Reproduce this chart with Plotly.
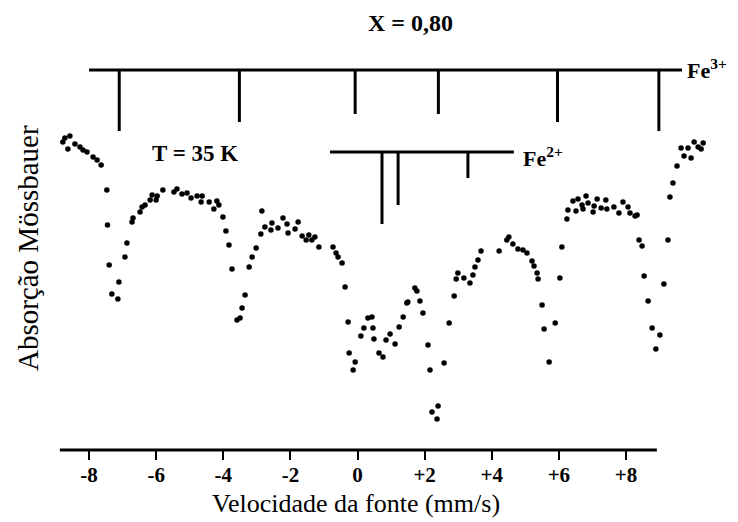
import plotly.graph_objects as go

# Mössbauer spectrum, X = 0,80, T = 35 K (velocity mm/s, relative absorption in arbitrary units)
velocity = [
    -8.78, -8.72, -8.63, -8.57, -8.42, -8.27, -8.18, -8.06, -7.88, -7.76,
    -7.64, -7.47, -7.45, -7.40, -7.32, -7.14, -7.11, -6.93, -6.87, -6.72,
    -6.69, -6.48, -6.42, -6.33, -6.18, -6.12, -6.00, -5.97, -5.80, -5.47,
    -5.38, -5.23, -5.08, -4.96, -4.78, -4.66, -4.63, -4.42, -4.28, -4.19,
    -4.13, -4.01, -3.92, -3.83, -3.74, -3.59, -3.50, -3.44, -3.35, -3.23,
    -3.14, -3.02, -2.88, -2.85, -2.76, -2.58, -2.55, -2.37, -2.22, -2.10,
    -2.07, -1.86, -1.77, -1.65, -1.53, -1.45, -1.36, -1.27, -1.15, -0.73,
    -0.64, -0.58, -0.46, -0.37, -0.28, -0.25, -0.13, -0.07, 0.10, 0.19,
    0.31, 0.43, 0.46, 0.49, 0.64, 0.76, 0.85, 0.97, 1.12, 1.24,
    1.36, 1.47, 1.50, 1.71, 1.77, 1.86, 1.95, 2.10, 2.16, 2.22,
    2.37, 2.40, 2.58, 2.73, 2.88, 2.94, 2.99, 3.17, 3.35, 3.44,
    3.50, 3.59, 3.68, 4.22, 4.45, 4.51, 4.63, 4.78, 4.93, 5.05,
    5.20, 5.26, 5.35, 5.38, 5.50, 5.56, 5.71, 5.89, 6.03, 6.09,
    6.24, 6.27, 6.42, 6.51, 6.57, 6.69, 6.72, 6.81, 6.87, 7.02,
    7.05, 7.14, 7.26, 7.40, 7.43, 7.64, 7.79, 7.91, 8.06, 8.12,
    8.27, 8.33, 8.39, 8.48, 8.54, 8.66, 8.78, 8.89, 9.01, 9.13,
    9.25, 9.31, 9.40, 9.52, 9.64, 9.73, 9.85, 9.94, 10.03, 10.15,
    10.24, 10.30,
]
signal = [
    308, 312, 301, 314, 306, 303, 300, 298, 293, 290,
    285, 260, 225, 185, 156, 151, 168, 193, 207, 228,
    232, 238, 243, 245, 250, 255, 250, 254, 260, 258,
    261, 256, 257, 252, 254, 248, 254, 248, 241, 249,
    245, 233, 219, 205, 181, 130, 132, 142, 155, 183,
    193, 202, 216, 239, 223, 220, 227, 222, 232, 226,
    217, 221, 228, 214, 210, 215, 210, 213, 203, 203,
    197, 193, 187, 163, 128, 97, 80, 88, 114, 122,
    132, 133, 122, 111, 97, 93, 110, 116, 106, 123,
    133, 147, 148, 162, 159, 149, 137, 105, 80, 38,
    31, 44, 87, 127, 154, 171, 177, 172, 167, 175,
    183, 190, 199, 199, 210, 213, 206, 201, 200, 197,
    189, 184, 177, 171, 145, 121, 88, 127, 172, 203,
    231, 240, 249, 239, 251, 245, 241, 254, 247, 238,
    244, 251, 242, 250, 241, 243, 237, 248, 243, 237,
    234, 235, 210, 204, 174, 149, 122, 101, 115, 166,
    210, 253, 267, 284, 302, 294, 302, 292, 308, 303,
    301, 307,
]

# Stick diagrams (line positions in mm/s)
fe3_positions = [-7.10, -3.52, -0.07, 2.41, 5.96, 8.98]
fe3_depths = [61, 52, 44, 44, 52, 61]
fe3_level = 380
fe3_span = [-8.00, 9.67]

fe2_positions = [0.73, 1.21, 3.29]
fe2_depths = [72, 53, 26]
fe2_level = 298
fe2_span = [-0.82, 4.66]

# Axis
axis_span = [-8.87, 8.92]
tick_values = [-8, -6, -4, -2, 0, 2, 4, 6, 8]
tick_labels = ["-8", "-6", "-4", "-2", "0", "+2", "+4", "+6", "+8"]


def stick_trace(positions, depths, level, span):
    xs = [span[0], span[1], None]
    ys = [level, level, None]
    for p, d in zip(positions, depths):
        xs += [p, p, None]
        ys += [level, level - d, None]
    return go.Scatter(x=xs, y=ys, mode="lines", line=dict(color="black", width=3),
                      hoverinfo="skip", showlegend=False)


fig = go.Figure()
fig.add_trace(go.Scatter(x=velocity, y=signal, mode="markers",
                         marker=dict(color="black", size=5.5), showlegend=False))
fig.add_trace(stick_trace(fe3_positions, fe3_depths, fe3_level, fe3_span))
fig.add_trace(stick_trace(fe2_positions, fe2_depths, fe2_level, fe2_span))
fig.add_trace(go.Scatter(x=axis_span, y=[0, 0], mode="lines",
                         line=dict(color="black", width=3), hoverinfo="skip", showlegend=False))

serif = "Liberation Serif, Times New Roman, DejaVu Serif, serif"
fig.update_layout(
    width=730, height=514,
    margin=dict(l=42, r=20, t=0, b=62),
    plot_bgcolor="white", paper_bgcolor="white",
    font=dict(family=serif, color="black"),
    xaxis=dict(range=[-9.163, 10.742], showgrid=False, zeroline=False, showline=False,
               tickmode="array", tickvals=tick_values, ticktext=tick_labels,
               ticks="inside", ticklen=10, tickwidth=2, tickcolor="black",
               tickfont=dict(family=serif, size=21, color="black", weight="bold")),
    yaxis=dict(range=[-10, 442], visible=False),
    annotations=[
        dict(text="X = 0,80", xref="paper", yref="paper", x=0.5404, y=0.9668,
             xanchor="center", yanchor="middle",
             showarrow=False, font=dict(family=serif, size=24, color="black", weight="bold")),
        dict(text="T = 35 K", xref="paper", yref="paper", x=0.2171, y=0.6792,
             xanchor="center", yanchor="middle",
             showarrow=False, font=dict(family=serif, size=23, color="black", weight="bold")),
        dict(text="Fe<sup>3+</sup>", x=fe3_span[1], y=fe3_level, xref="x", yref="y",
             xanchor="left", yanchor="middle", xshift=3, yshift=1, showarrow=False,
             font=dict(family=serif, size=22, color="black", weight="bold")),
        dict(text="Fe<sup>2+</sup>", x=fe2_span[1], y=fe2_level, xref="x", yref="y",
             xanchor="left", yanchor="middle", xshift=7, yshift=-5, showarrow=False,
             font=dict(family=serif, size=22, color="black", weight="bold")),
        dict(text="Velocidade da fonte (mm/s)", xref="paper", yref="paper",
             x=0.4581, y=-0.0973, xanchor="center", yanchor="middle", showarrow=False,
             font=dict(family=serif, size=26, color="black")),
        dict(text="Absorção Mössbauer", xref="paper", yref="paper",
             x=-0.0329, y=0.469, textangle=-90, xanchor="center", yanchor="middle",
             showarrow=False, font=dict(family=serif, size=29, color="black")),
    ],
)

fig.write_html("out.html")
